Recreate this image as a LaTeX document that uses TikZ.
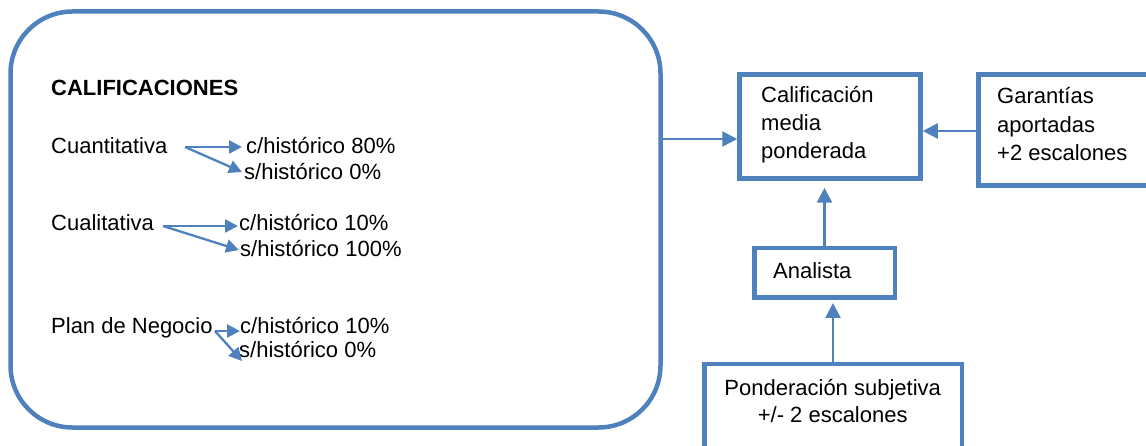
\documentclass[tikz,border=0pt]{standalone}
\usepackage{fontspec}
\setmainfont{Liberation Sans}
\usetikzlibrary{arrows.meta}
\definecolor{ob}{HTML}{4F81BD}
\begin{document}
\begin{tikzpicture}[x=1pt,y=-1pt,
  boxst/.style={draw=ob, line width=4.5pt, inner sep=0pt},
  txt/.style={inner sep=0pt, anchor=base west, font=\fontsize{22}{28}\selectfont},
  ctxt/.style={inner sep=0pt, anchor=base, font=\fontsize{22}{28}\selectfont},
  conn/.style={draw=ob, line width=2.5pt, -{Triangle[length=15pt,width=15pt]}},
  smallarr/.style={draw=ob, line width=2.3pt, -{Triangle[length=13pt,width=13pt]}}]
\useasboundingbox (0,0) rectangle (1146,446);
\clip (0,0) rectangle (1146,446);

% boxes
\node[boxst, rounded corners=62pt, minimum width=650pt, minimum height=416pt] (big) at (335.5,219.5) {};
\node[boxst, minimum width=181pt, minimum height=104pt] (cal) at (830,126.5) {};
\node[boxst, minimum width=191.5pt, minimum height=111pt] (gar) at (1074.25,130) {};
\node[boxst, minimum width=140.5pt, minimum height=49.5pt] (ana) at (824.5,273) {};
\node[boxst, minimum width=257.5pt, minimum height=105.75pt] (pond) at (833,417.1) {};

% left texts
\node[txt, font=\fontsize{22}{28}\selectfont\bfseries] (title) at (51,96) {CALIFICACIONES};
\node[txt] (cuan) at (51,154) {Cuantitativa};
\node[txt] (c80) at (246,154) {c/histórico 80\%};
\node[txt] (s0a) at (244,180) {s/histórico 0\%};
\node[txt] (cual) at (51,231) {Cualitativa};
\node[txt] (c10a) at (239,231) {c/histórico 10\%};
\node[txt] (s100) at (240,257) {s/histórico 100\%};
\node[txt] (plan) at (51,334) {Plan de Negocio};
\node[txt] (c10b) at (240,334) {c/histórico 10\%};
\node[txt] (s0b) at (239,357) {s/histórico 0\%};

% right texts
\node[txt] (cal1) at (761,103) {Calificación};
\node[txt] (cal2) at (761,131) {media};
\node[txt] (cal3) at (761,159) {ponderada};
\node[txt] (gar1) at (997,104) {Garantías};
\node[txt] (gar2) at (997,132.5) {aportadas};
\node[txt] (gar3) at (997,161) {+2 escalones};
\node[txt] (ana1) at (773,279) {Analista};
\node[ctxt] (pond1) at (832.7,395) {Ponderación subjetiva};
\node[ctxt] (pond2) at (832.7,422.7) {+/- 2 escalones};

% small arrows
\coordinate (q0) at (185,147);
\coordinate (q1) at (163,226);
\coordinate (q2) at (215,331);
\draw[smallarr] (q0) -- ([shift={(-4,-7)}]c80.base west);
\draw[smallarr] (q0) -- ([shift={(-2,-8)}]s0a.base west);
\draw[smallarr] (q1) -- ([shift={(-1,-5)}]c10a.base west);
\draw[smallarr] (q1) -- ([shift={(-1,-7)}]s100.base west);
\draw[smallarr] (q2) -- ([shift={(0,-3)}]c10b.base west);
\draw[smallarr] (q2) -- ([shift={(3,4)}]s0b.base west);

% main connectors
\coordinate (y139) at (0,139);
\coordinate (y131) at (0,131);
\draw[conn] (big.east |- y139) -- (cal.west |- y139);
\draw[conn] (gar.west |- y131) -- (cal.east |- y131);
\draw[conn, shorten >=7pt] (ana.north) -- (ana.north |- cal.south);
\draw[conn, shorten >=3pt] (pond.north) -- (pond.north |- ana.south);
\end{tikzpicture}
\end{document}
